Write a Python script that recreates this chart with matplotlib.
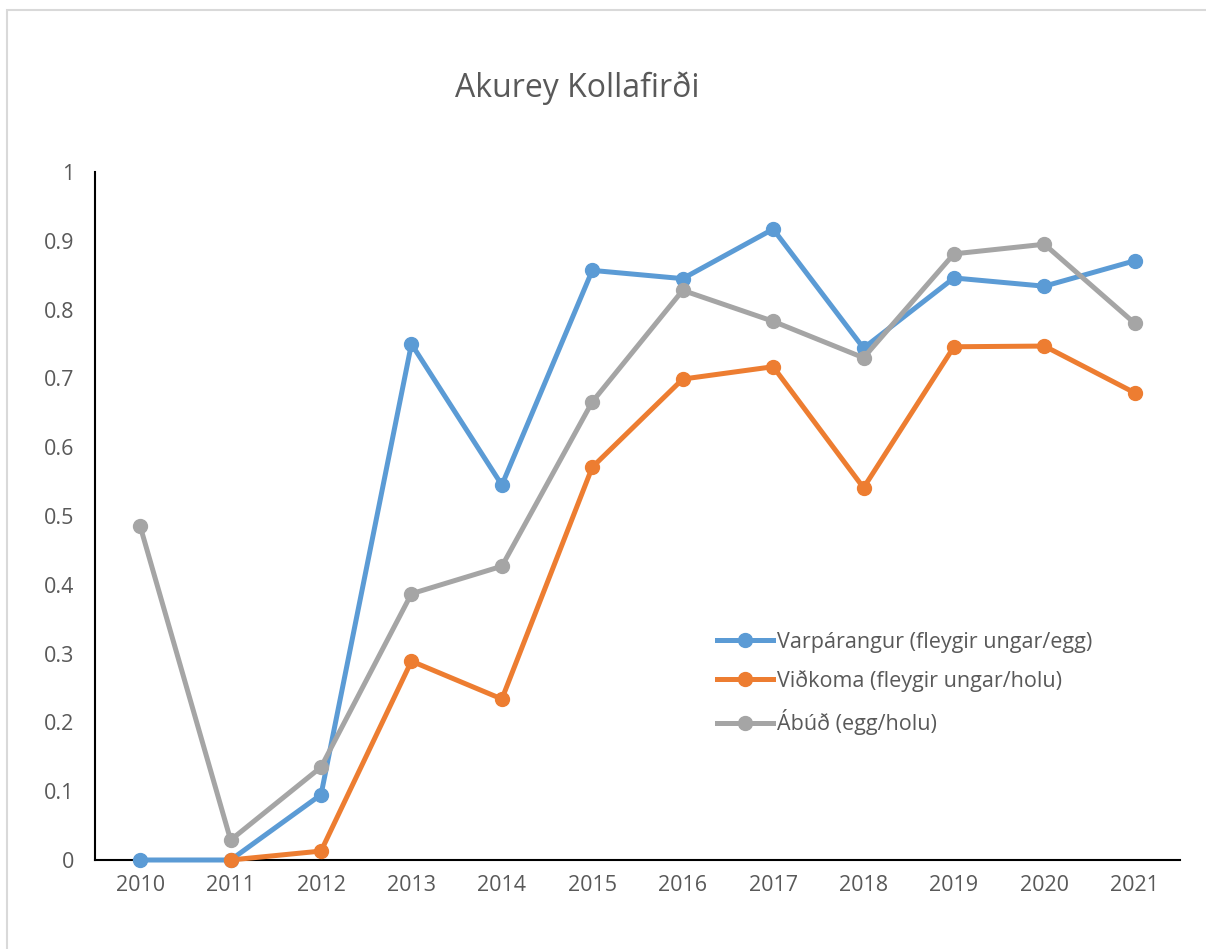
import matplotlib.pyplot as plt
from matplotlib.patches import Rectangle

years = ['2010', '2011', '2012', '2013', '2014', '2015', '2016', '2017', '2018', '2019', '2020', '2021']
varparangur = [0, 0, 0.095, 0.750, 0.545, 0.857, 0.845, 0.917, 0.744, 0.846, 0.834, 0.871]
vidkoma = [None, 0, 0.013, 0.289, 0.234, 0.571, 0.699, 0.717, 0.541, 0.746, 0.747, 0.679]
abud = [0.485, 0.029, 0.135, 0.387, 0.427, 0.666, 0.828, 0.783, 0.730, 0.881, 0.895, 0.780]
yticks = [0, 0.1, 0.2, 0.3, 0.4, 0.5, 0.6, 0.7, 0.8, 0.9, 1]

plt.rcParams['font.family'] = ['Open Sans', 'DejaVu Sans']
txt = '#595959'

fig = plt.figure(figsize=(12.06, 9.49), dpi=100)
# outer chart border
fig.patches.append(Rectangle((7/1206, -0.1), 1.2, 1.1 - 10/949, transform=fig.transFigure,
                             fill=False, edgecolor='#d9d9d9', linewidth=1.5))
ax = fig.add_axes([95/1206, 1 - 860/949, 1085/1206, 688/949])

x = list(range(len(years)))
vk_x = [i for i, v in zip(x, vidkoma) if v is not None]
vk_y = [v for v in vidkoma if v is not None]

ax.plot(x, varparangur, color='#5b9bd5', lw=3.6, marker='o', ms=10, clip_on=False,
        label='Varpárangur (fleygir ungar/egg)')
ax.plot(vk_x, vk_y, color='#ed7d31', lw=3.6, marker='o', ms=10, clip_on=False,
        label='Viðkoma (fleygir ungar/holu)')
ax.plot(x, abud, color='#a5a5a5', lw=3.6, marker='o', ms=10, clip_on=False,
        label='Ábúð (egg/holu)')

ax.set_xlim(-0.5, 11.5)
ax.set_ylim(0, 1)
ax.set_xticks(x)
ax.set_xticklabels(years)
ax.set_yticks(yticks)
ax.set_yticklabels([f'{v:g}' for v in yticks])
ax.tick_params(length=0, labelsize=15.5, labelcolor=txt)
ax.tick_params(axis='y', pad=15)
ax.tick_params(axis='x', pad=11)
for s in ['top', 'right']:
    ax.spines[s].set_visible(False)
for s in ['left', 'bottom']:
    ax.spines[s].set_linewidth(1.5)
    ax.spines[s].set_color('black')
    ax.spines[s].set_zorder(1)

fig.text(577/1206, 1 - 88/949, 'Akurey Kollafirði', ha='center', va='center', fontsize=23, color=txt)

leg = ax.legend(loc='upper left', bbox_to_anchor=(0.555, 0.36), frameon=False, fontsize=15.5,
                handlelength=2.6, handletextpad=0.2, labelspacing=0.8, labelcolor=txt)

fig.savefig('out.png', dpi=100)
